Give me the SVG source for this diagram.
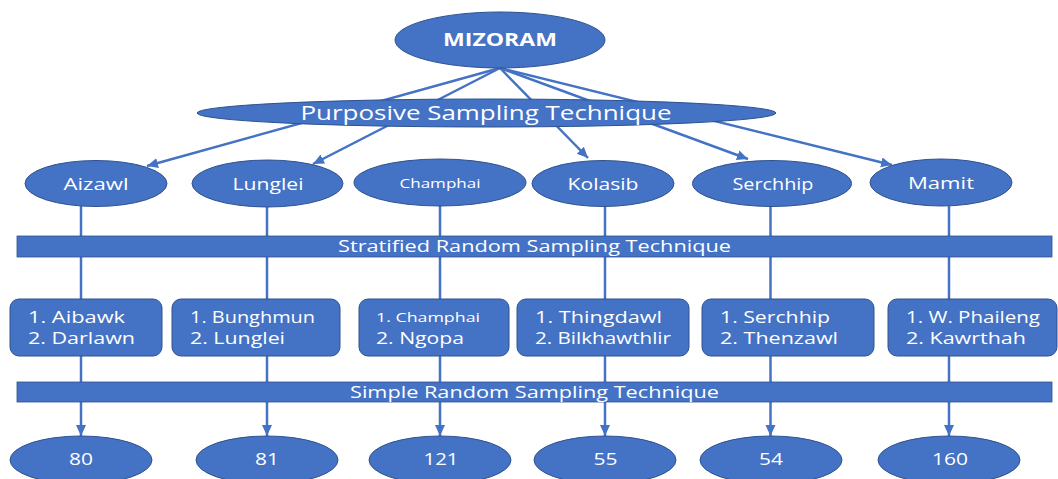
<svg xmlns="http://www.w3.org/2000/svg" width="1058" height="479" viewBox="0 0 1058 479">
<style>
.n{fill:#4472C4;stroke:#2F528F;stroke-width:1}
.bar{fill:#4472C4;stroke:#2F528F;stroke-width:0.8}
.c{stroke:#4472C4;stroke-width:2.5;fill:none}
text{font-family:"Open Sans","Liberation Sans",sans-serif;fill:#ffffff}
.m{text-anchor:middle}
</style>
<defs>
<marker id="ah" markerUnits="userSpaceOnUse" markerWidth="12" markerHeight="12" viewBox="0 0 12 12" refX="11" refY="6" orient="auto">
<path d="M0,1 L11,6 L0,11 Z" fill="#4472C4"/>
</marker>
</defs>
<g id="connectors">
<line class="c" x1="500" y1="68" x2="147" y2="166" marker-end="url(#ah)"/>
<line class="c" x1="500" y1="68" x2="313" y2="164" marker-end="url(#ah)"/>
<line class="c" x1="500" y1="68" x2="588" y2="158" marker-end="url(#ah)"/>
<line class="c" x1="500" y1="68" x2="748" y2="159" marker-end="url(#ah)"/>
<line class="c" x1="500" y1="68" x2="892" y2="165" marker-end="url(#ah)"/>
<line class="c" x1="81" y1="206" x2="81" y2="299"/>
<line class="c" x1="267" y1="206" x2="267" y2="299"/>
<line class="c" x1="440" y1="205" x2="440" y2="299"/>
<line class="c" x1="605" y1="206" x2="605" y2="299"/>
<line class="c" x1="770.5" y1="206" x2="770.5" y2="299"/>
<line class="c" x1="949" y1="206" x2="949" y2="299"/>
<line class="c" x1="81" y1="356" x2="81" y2="436" marker-end="url(#ah)"/>
<line class="c" x1="267" y1="356" x2="267" y2="436" marker-end="url(#ah)"/>
<line class="c" x1="440" y1="356" x2="440" y2="436" marker-end="url(#ah)"/>
<line class="c" x1="605" y1="356" x2="605" y2="436" marker-end="url(#ah)"/>
<line class="c" x1="770.5" y1="356" x2="770.5" y2="436" marker-end="url(#ah)"/>
<line class="c" x1="949" y1="356" x2="949" y2="436" marker-end="url(#ah)"/>
</g>
<g id="mizoram">
<ellipse class="n" cx="500" cy="40" rx="105" ry="28"/>
<text class="m" x="500" y="46" font-size="18" font-weight="bold" textLength="114" lengthAdjust="spacingAndGlyphs">MIZORAM</text>
</g>
<g id="purposive">
<ellipse class="n" cx="486.5" cy="113" rx="289.5" ry="14"/>
<text class="m" x="486" y="120" font-size="20" textLength="371" lengthAdjust="spacingAndGlyphs">Purposive Sampling Technique</text>
</g>
<g id="d-aizawl">
<ellipse class="n" cx="96" cy="183.5" rx="71" ry="23"/>
<text class="m" x="96" y="190" font-size="17" textLength="65" lengthAdjust="spacingAndGlyphs">Aizawl</text>
</g>
<g id="d-lunglei">
<ellipse class="n" cx="267.5" cy="183.5" rx="75.5" ry="23.5"/>
<text class="m" x="268" y="190" font-size="17" textLength="71" lengthAdjust="spacingAndGlyphs">Lunglei</text>
</g>
<g id="d-champhai">
<ellipse class="n" cx="440" cy="182.5" rx="86" ry="23.5"/>
<text class="m" x="440" y="188" font-size="13" textLength="81" lengthAdjust="spacingAndGlyphs">Champhai</text>
</g>
<g id="d-kolasib">
<ellipse class="n" cx="603" cy="183.5" rx="71" ry="23"/>
<text class="m" x="603" y="190" font-size="17" textLength="71" lengthAdjust="spacingAndGlyphs">Kolasib</text>
</g>
<g id="d-serchhip">
<ellipse class="n" cx="772" cy="183.5" rx="79.5" ry="23"/>
<text class="m" x="773" y="190" font-size="17" textLength="81" lengthAdjust="spacingAndGlyphs">Serchhip</text>
</g>
<g id="d-mamit">
<ellipse class="n" cx="941" cy="182.5" rx="71" ry="23.5"/>
<text class="m" x="941" y="189" font-size="17" textLength="66" lengthAdjust="spacingAndGlyphs">Mamit</text>
</g>
<g id="stratified">
<rect class="bar" x="17" y="236" width="1035" height="21"/>
<text class="m" x="534.5" y="252" font-size="16" textLength="393" lengthAdjust="spacingAndGlyphs">Stratified Random Sampling Technique</text>
</g>
<g id="b-aizawl">
<rect class="n" x="10" y="299" width="152" height="57" rx="9"/>
<text x="28" y="323" font-size="16" textLength="97" lengthAdjust="spacingAndGlyphs">1. Aibawk</text>
<text x="28" y="344" font-size="16" textLength="107" lengthAdjust="spacingAndGlyphs">2. Darlawn</text>
</g>
<g id="b-lunglei">
<rect class="n" x="172" y="299" width="168" height="57" rx="9"/>
<text x="190" y="323" font-size="16" textLength="125" lengthAdjust="spacingAndGlyphs">1. Bunghmun</text>
<text x="190" y="344" font-size="16" textLength="95" lengthAdjust="spacingAndGlyphs">2. Lunglei</text>
</g>
<g id="b-champhai">
<rect class="n" x="359" y="299" width="150" height="57" rx="9"/>
<text x="376" y="322" font-size="13" textLength="104" lengthAdjust="spacingAndGlyphs">1.  Champhai</text>
<text x="376" y="344" font-size="16" textLength="88" lengthAdjust="spacingAndGlyphs">2. Ngopa</text>
</g>
<g id="b-kolasib">
<rect class="n" x="517" y="299" width="172" height="57" rx="9"/>
<text x="535" y="323" font-size="16" textLength="127" lengthAdjust="spacingAndGlyphs">1. Thingdawl</text>
<text x="535" y="344" font-size="16" textLength="136" lengthAdjust="spacingAndGlyphs">2. Bilkhawthlir</text>
</g>
<g id="b-serchhip">
<rect class="n" x="702" y="299" width="172" height="57" rx="9"/>
<text x="720" y="323" font-size="16" textLength="110" lengthAdjust="spacingAndGlyphs">1. Serchhip</text>
<text x="720" y="344" font-size="16" textLength="118" lengthAdjust="spacingAndGlyphs">2. Thenzawl</text>
</g>
<g id="b-mamit">
<rect class="n" x="888" y="299" width="169" height="57" rx="9"/>
<text x="906" y="323" font-size="16" textLength="134" lengthAdjust="spacingAndGlyphs">1. W. Phaileng</text>
<text x="906" y="344" font-size="16" textLength="120" lengthAdjust="spacingAndGlyphs">2. Kawrthah</text>
</g>
<g id="simple">
<rect class="bar" x="17" y="382" width="1035" height="20"/>
<text class="m" x="534.5" y="398" font-size="16" textLength="369" lengthAdjust="spacingAndGlyphs">Simple Random Sampling Technique</text>
</g>
<g id="n-80">
<ellipse class="n" cx="81" cy="460" rx="71" ry="24"/>
<text class="m" x="81" y="465" font-size="17" textLength="24" lengthAdjust="spacingAndGlyphs">80</text>
</g>
<g id="n-81">
<ellipse class="n" cx="267" cy="460" rx="71" ry="24"/>
<text class="m" x="267" y="465" font-size="17" textLength="24" lengthAdjust="spacingAndGlyphs">81</text>
</g>
<g id="n-121">
<ellipse class="n" cx="440" cy="460" rx="71" ry="24"/>
<text class="m" x="441" y="465" font-size="17" textLength="35" lengthAdjust="spacingAndGlyphs">121</text>
</g>
<g id="n-55">
<ellipse class="n" cx="605" cy="460" rx="71" ry="24"/>
<text class="m" x="605.5" y="465" font-size="17" textLength="24" lengthAdjust="spacingAndGlyphs">55</text>
</g>
<g id="n-54">
<ellipse class="n" cx="771" cy="460" rx="71" ry="24"/>
<text class="m" x="771" y="465" font-size="17" textLength="24" lengthAdjust="spacingAndGlyphs">54</text>
</g>
<g id="n-160">
<ellipse class="n" cx="949" cy="460" rx="71" ry="24"/>
<text class="m" x="950" y="465" font-size="17" textLength="36" lengthAdjust="spacingAndGlyphs">160</text>
</g>
</svg>
